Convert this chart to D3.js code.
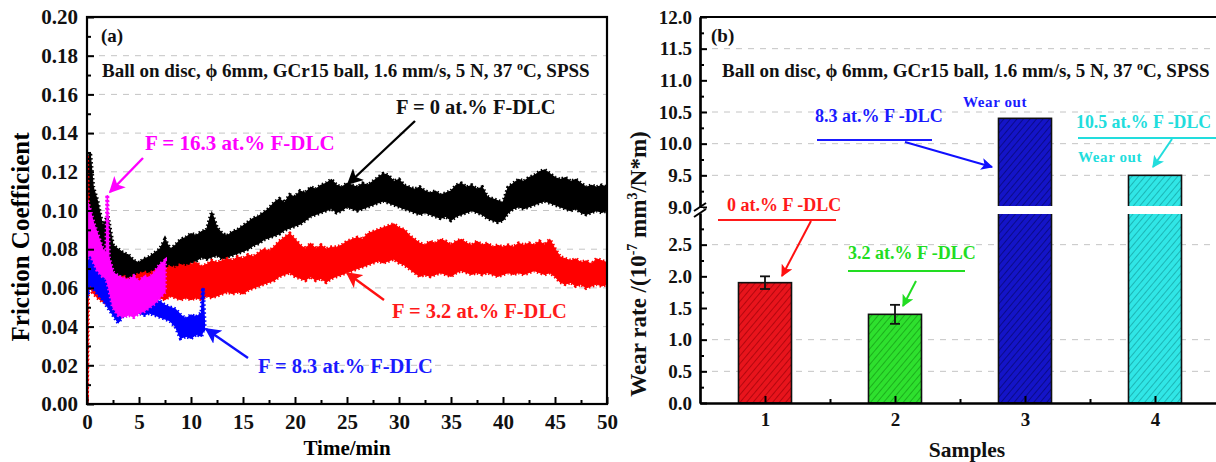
<!DOCTYPE html>
<html>
<head>
<meta charset="utf-8">
<script src="https://cdn.jsdelivr.net/npm/d3@7/dist/d3.min.js"></script>
<style>
  html, body { margin: 0; padding: 0; background: #fff; }
  svg text { font-family: "Liberation Serif", "Times New Roman", serif; font-weight: bold; }
</style>
</head>
<body>
<svg id="chart" width="1216" height="462"></svg>
<script>
// ---------- (a) friction coefficient vs time: [time/min, band low, band high] ----------
const frictionF0 = [
  [0,0.085,0.125],[0.3,0.095,0.13],[0.6,0.092,0.112],[1,0.085,0.105],[1.5,0.078,0.092],[2,0.072,0.097],
  [2.5,0.068,0.082],[3,0.067,0.080],[3.5,0.066,0.078],[4,0.065,0.077],[4.5,0.064,0.074],
  [5,0.063,0.073],[5.5,0.063,0.075],[6,0.064,0.076],[6.5,0.065,0.078],[7,0.066,0.080],
  [7.5,0.067,0.085],[8,0.068,0.080],[8.5,0.069,0.082],[9,0.070,0.085],[9.5,0.071,0.086],
  [10,0.073,0.088],[10.5,0.074,0.087],[11,0.076,0.089],[11.5,0.075,0.090],[12,0.076,0.099],
  [12.5,0.077,0.091],[13,0.075,0.088],[13.5,0.076,0.087],[14,0.077,0.089],[14.5,0.078,0.090],
  [15,0.079,0.092],[15.5,0.080,0.094],[16,0.082,0.096],[16.5,0.083,0.097],[17,0.085,0.099],
  [17.5,0.086,0.101],[18,0.087,0.104],[18.5,0.088,0.106],[19,0.090,0.104],[19.5,0.091,0.108],
  [20,0.092,0.107],[20.5,0.093,0.110],[21,0.095,0.109],[21.5,0.097,0.112],[22,0.098,0.111],
  [22.5,0.099,0.113],[23,0.100,0.114],[23.5,0.101,0.116],[24,0.099,0.113],[24.5,0.100,0.112],
  [25,0.102,0.114],[25.5,0.101,0.113],[26,0.100,0.112],[26.5,0.101,0.114],[27,0.102,0.113],
  [27.5,0.103,0.115],[28,0.104,0.117],[28.5,0.105,0.119],[29,0.104,0.118],[29.5,0.103,0.115],
  [30,0.102,0.116],[30.5,0.101,0.113],[31,0.100,0.112],[31.5,0.099,0.111],[32,0.098,0.112],
  [32.5,0.099,0.110],[33,0.098,0.109],[33.5,0.097,0.110],[34,0.096,0.108],[34.5,0.097,0.109],
  [35,0.095,0.110],[35.5,0.097,0.113],[36,0.098,0.114],[36.5,0.099,0.112],[37,0.100,0.113],
  [37.5,0.099,0.111],[38,0.098,0.112],[38.5,0.096,0.107],[39,0.095,0.106],[39.5,0.094,0.105],
  [40,0.095,0.104],[40.5,0.099,0.112],[41,0.101,0.114],[41.5,0.102,0.116],[42,0.101,0.115],
  [42.5,0.102,0.117],[43,0.103,0.118],[43.5,0.104,0.120],[44,0.105,0.121],[44.5,0.104,0.119],
  [45,0.103,0.117],[45.5,0.102,0.116],[46,0.101,0.117],[46.5,0.100,0.115],[47,0.101,0.116],
  [47.5,0.099,0.114],[48,0.098,0.112],[48.5,0.099,0.113],[49,0.100,0.112],[49.5,0.099,0.113],
  [50,0.100,0.112]
];
const frictionF32 = [
  [0,0.000,0.128],[0.1,0.065,0.105],[0.5,0.058,0.078],[1,0.055,0.068],[1.5,0.053,0.065],
  [2,0.052,0.064],[2.5,0.053,0.066],[3,0.054,0.065],[3.5,0.053,0.066],[4,0.054,0.064],
  [4.5,0.053,0.066],[5,0.054,0.067],[5.5,0.053,0.068],[6,0.055,0.067],[6.5,0.054,0.069],
  [7,0.055,0.068],[7.5,0.054,0.070],[8,0.056,0.071],[8.5,0.055,0.070],[9,0.054,0.072],
  [9.5,0.055,0.071],[10,0.054,0.072],[10.5,0.055,0.073],[11,0.054,0.071],[11.5,0.056,0.072],
  [12,0.055,0.074],[12.5,0.056,0.073],[13,0.057,0.074],[13.5,0.058,0.075],[14,0.057,0.074],
  [14.5,0.058,0.076],[15,0.057,0.075],[15.5,0.059,0.077],[16,0.060,0.076],[16.5,0.061,0.078],
  [17,0.062,0.080],[17.5,0.063,0.079],[18,0.064,0.081],[18.5,0.066,0.084],[19,0.067,0.086],
  [19.5,0.068,0.088],[20,0.066,0.085],[20.5,0.065,0.082],[21,0.064,0.080],[21.5,0.066,0.083],
  [22,0.064,0.080],[22.5,0.065,0.082],[23,0.063,0.080],[23.5,0.065,0.081],[24,0.066,0.081],
  [24.5,0.067,0.082],[25,0.068,0.084],[25.5,0.069,0.085],[26,0.070,0.086],[26.5,0.071,0.085],
  [27,0.072,0.088],[27.5,0.073,0.089],[28,0.074,0.090],[28.5,0.073,0.091],[29,0.074,0.092],
  [29.5,0.075,0.093],[30,0.073,0.091],[30.5,0.072,0.090],[31,0.070,0.087],[31.5,0.068,0.085],
  [32,0.066,0.083],[32.5,0.067,0.082],[33,0.066,0.084],[33.5,0.067,0.083],[34,0.068,0.085],
  [34.5,0.067,0.084],[35,0.066,0.082],[35.5,0.068,0.084],[36,0.069,0.085],[36.5,0.068,0.083],
  [37,0.067,0.082],[37.5,0.068,0.084],[38,0.067,0.082],[38.5,0.068,0.083],[39,0.067,0.081],
  [39.5,0.066,0.082],[40,0.067,0.081],[40.5,0.068,0.082],[41,0.067,0.081],[41.5,0.068,0.083],
  [42,0.067,0.082],[42.5,0.068,0.083],[43,0.069,0.082],[43.5,0.068,0.084],[44,0.067,0.082],
  [44.5,0.068,0.085],[45,0.066,0.080],[45.5,0.063,0.076],[46,0.062,0.075],[46.5,0.063,0.074],
  [47,0.061,0.075],[47.5,0.062,0.073],[48,0.060,0.074],[48.5,0.061,0.072],[49,0.062,0.075],
  [49.5,0.061,0.074],[50,0.062,0.073]
];
const frictionF83 = [
  [0,0.055,0.100],[0.3,0.062,0.085],[0.6,0.060,0.076],[1,0.057,0.071],[1.5,0.054,0.067],[2,0.050,0.063],
  [2.5,0.046,0.059],[3,0.042,0.057],[3.5,0.046,0.059],[4,0.047,0.057],[4.5,0.047,0.055],
  [5,0.047,0.056],[5.5,0.046,0.054],[6,0.047,0.055],[6.5,0.046,0.054],[7,0.045,0.053],
  [7.5,0.044,0.051],[8,0.043,0.050],[8.5,0.040,0.049],[9,0.034,0.046],[9.5,0.035,0.044],
  [10,0.034,0.046],[10.5,0.036,0.045],[11,0.035,0.047],[11.15,0.038,0.060],[11.3,0.038,0.042]
];
const frictionF163 = [
  [0,0.075,0.105],[0.3,0.078,0.100],[0.6,0.074,0.094],[1,0.069,0.088],[1.5,0.066,0.080],[1.85,0.065,0.078],
  [1.95,0.063,0.108],[2.1,0.060,0.076],[2.5,0.050,0.068],[3,0.046,0.066],[3.5,0.045,0.065],
  [4,0.046,0.064],[4.5,0.045,0.066],[5,0.047,0.063],[5.5,0.048,0.066],[6,0.050,0.065],
  [6.5,0.052,0.068],[7,0.055,0.072],[7.5,0.058,0.074]
];
const frictionTicks = [0, 0.02, 0.04, 0.06, 0.08, 0.10, 0.12, 0.14, 0.16, 0.18, 0.20];
const timeTicks = [0, 5, 10, 15, 20, 25, 30, 35, 40, 45, 50];

// ---------- (b) wear rate per sample ----------
const samples = [1, 2, 3, 4];
const wearRate = [1.9, 1.4, 10.4, 9.5];
const wearErr = [0.1, 0.15, null, null];
const wearTicksLow = [0, 0.5, 1.0, 1.5, 2.0, 2.5];
const wearTicksHigh = [9.0, 9.5, 10.0, 10.5, 11.0, 11.5, 12.0];
const wearGridLow = [0.5, 1.0, 2.5];
const wearGridHigh = [9.5, 10.0, 10.5, 11.5];

const svg = d3.select("#chart");
const defs = svg.append("defs");

// ================= panel (a) =================
const xL = d3.scaleLinear().domain([0, 50]).range([87, 607]);
const yL = d3.scaleLinear().domain([0, 0.2]).range([404, 17]);

defs.append("clipPath").attr("id", "clipA")
  .append("rect").attr("x", 87).attr("y", 17).attr("width", 520).attr("height", 387);

const gA = svg.append("g");

// dashed grid
gA.append("g").selectAll("line").data(frictionTicks.slice(1, -1)).join("line")
  .attr("x1", xL(0)).attr("x2", xL(50))
  .attr("y1", d => yL(d)).attr("y2", d => yL(d))
  .attr("stroke", "#c4c4c4").attr("stroke-width", 1).attr("stroke-dasharray", "6,6");

// friction bands: filled envelope plus a ragged dashed rim for the noisy trace
const band = d3.area()
  .x(d => xL(d[0])).y0(d => yL(d[1])).y1(d => yL(d[2]))
  .curve(d3.curveLinear);
const curves = [
  { data: frictionF0, color: "#000000" },
  { data: frictionF32, color: "#ff0000" },
  { data: frictionF83, color: "#0000ff" },
  { data: frictionF163, color: "#ff00ff" }
];
const gCurves = gA.append("g").attr("clip-path", "url(#clipA)");
curves.forEach(c => {
  gCurves.append("path").attr("d", band(c.data))
    .attr("fill", c.color).attr("stroke", c.color).attr("stroke-width", 1.2)
    .attr("stroke-linejoin", "miter");
  gCurves.append("path").attr("d", band(c.data))
    .attr("fill", "none").attr("stroke", c.color).attr("stroke-width", 4)
    .attr("stroke-dasharray", "1.5,2.5");
});

// axes with inward ticks
const axL = gA.append("g").attr("transform", `translate(${xL(0)},0)`)
  .call(d3.axisLeft(yL).tickValues(frictionTicks).tickFormat(d3.format(".2f"))
    .tickSizeInner(-7).tickSizeOuter(0).tickPadding(9));
gA.append("g").attr("transform", `translate(${xL(0)},0)`)
  .call(d3.axisLeft(yL).tickValues(d3.range(0.01, 0.2, 0.02)).tickFormat("")
    .tickSizeInner(-4).tickSizeOuter(0));
const axB = gA.append("g").attr("transform", `translate(0,${yL(0)})`)
  .call(d3.axisBottom(xL).tickValues(timeTicks).tickFormat(d3.format("d"))
    .tickSizeInner(-7).tickSizeOuter(0).tickPadding(10));
gA.append("g").attr("transform", `translate(0,${yL(0)})`)
  .call(d3.axisBottom(xL).tickValues(d3.range(2.5, 50, 5)).tickFormat("")
    .tickSizeInner(-4).tickSizeOuter(0));
gA.selectAll(".domain").remove();
gA.selectAll(".tick line").attr("stroke", "#000").attr("stroke-width", 2);
[axL, axB].forEach(a => a.selectAll("text").attr("font-size", 21).attr("fill", "#111"));

// frame
gA.append("rect").attr("x", xL(0)).attr("y", yL(0.2))
  .attr("width", xL(50) - xL(0)).attr("height", yL(0) - yL(0.2))
  .attr("fill", "none").attr("stroke", "#000").attr("stroke-width", 2.2);

// titles
gA.append("text").attr("transform", "translate(29,237) rotate(-90)")
  .attr("text-anchor", "middle").attr("font-size", 25).text("Friction Coefficient");
gA.append("text").attr("x", 347).attr("y", 455)
  .attr("text-anchor", "middle").attr("font-size", 21).text("Time/min");

// ---------- markers for annotation arrows ----------
function arrowMarker(id, color, size) {
  defs.append("marker").attr("id", id)
    .attr("viewBox", "0 0 10 10").attr("refX", 9).attr("refY", 5)
    .attr("markerWidth", size).attr("markerHeight", size).attr("orient", "auto")
    .attr("markerUnits", "userSpaceOnUse")
    .append("path").attr("d", "M0,0 L10,5 L0,10 L2.5,5 Z").attr("fill", color);
}
arrowMarker("arK", "#000", 16);
arrowMarker("arR", "#ff1010", 16);
arrowMarker("arB", "#1010ff", 16);
arrowMarker("arM", "#ff00ff", 16);
arrowMarker("arR2", "#ff1010", 12);
arrowMarker("arG", "#22dd22", 12);
arrowMarker("arB2", "#1010ff", 12);
arrowMarker("arC", "#22dddd", 12);

function arrow(g, x1, y1, x2, y2, color, marker, w) {
  g.append("line").attr("x1", x1).attr("y1", y1).attr("x2", x2).attr("y2", y2)
    .attr("stroke", color).attr("stroke-width", w || 2.4)
    .attr("marker-end", `url(#${marker})`);
}
function label(g, x, y, txt, color, size) {
  return g.append("text").attr("x", x).attr("y", y)
    .attr("fill", color).attr("font-size", size).text(txt);
}
function conditionText(g, x, y) {
  const t = g.append("text").attr("x", x).attr("y", y).attr("font-size", 19).attr("fill", "#111");
  t.append("tspan").text("Ball on disc, ϕ 6mm, GCr15 ball, 1.6 mm/s, 5 N, 37 ");
  t.append("tspan").attr("dy", -7).attr("font-size", 12).text("o");
  t.append("tspan").attr("dy", 7).text("C, SPSS");
}

label(gA, 101, 42, "(a)", "#111", 19);
conditionText(gA, 102, 77);

label(gA, 145, 150, "F = 16.3 at.% F-DLC", "#ff00ff", 21);
arrow(gA, 143, 158, 110, 192, "#ff00ff", "arM");
label(gA, 396, 114, "F = 0 at.% F-DLC", "#111", 20.5);
arrow(gA, 415, 121, 348, 184, "#000", "arK");
label(gA, 392, 318, "F = 3.2 at.% F-DLC", "#ff1a1a", 20.5);
arrow(gA, 384, 300, 347, 273, "#ff1010", "arR");
label(gA, 258, 373, "F = 8.3 at.% F-DLC", "#1a1aff", 20.5);
arrow(gA, 248, 358, 206, 329, "#1010ff", "arB");

// ================= panel (b) =================
const xR = d3.scaleLinear().domain([0.5, 4.5]).range([700, 1220]);
const yLo = d3.scaleLinear().domain([0, 3.0]).range([403, 213]);
const yHi = d3.scaleLinear().domain([9.0, 12.0]).range([207, 17]);
const barW = 53;
const gB = svg.append("g");

// grid
gB.append("g").selectAll("line").data(wearGridLow).join("line")
  .attr("x1", xR(0.5)).attr("x2", xR(4.5)).attr("y1", d => yLo(d)).attr("y2", d => yLo(d))
  .attr("stroke", "#c4c4c4").attr("stroke-dasharray", "6,6");
gB.append("g").selectAll("line").data(wearGridHigh).join("line")
  .attr("x1", xR(0.5)).attr("x2", xR(4.5)).attr("y1", d => yHi(d)).attr("y2", d => yHi(d))
  .attr("stroke", "#c4c4c4").attr("stroke-dasharray", "6,6");

// hatched fills
const barStyles = [
  { fill: "#e8141c", hatch: "#9c0008" },
  { fill: "#2ee02e", hatch: "#139a13" },
  { fill: "#1414c8", hatch: "#06066e" },
  { fill: "#30e6e6", hatch: "#14a0a0" }
];
barStyles.forEach((s, i) => {
  const p = defs.append("pattern").attr("id", "hatch" + i)
    .attr("patternUnits", "userSpaceOnUse").attr("width", 5).attr("height", 5)
    .attr("patternTransform", "rotate(40)");
  p.append("rect").attr("width", 5).attr("height", 5).attr("fill", s.fill);
  p.append("line").attr("x1", 0).attr("y1", 0).attr("x2", 0).attr("y2", 5)
    .attr("stroke", s.hatch).attr("stroke-width", 1.4);
});

// bars (split across the axis break)
const barData = samples.map((s, i) => ({ s, v: wearRate[i], e: wearErr[i], i }));
const gBars = gB.append("g");
barData.forEach(d => {
  const x0 = xR(d.s) - barW / 2;
  const lowTop = yLo(Math.min(d.v, 3.0));
  gBars.append("rect").attr("x", x0).attr("y", lowTop)
    .attr("width", barW).attr("height", yLo(0) - lowTop)
    .attr("fill", `url(#hatch${d.i})`).attr("stroke", "#111").attr("stroke-width", 1.6);
  if (d.v > 9.0) {
    gBars.append("rect").attr("x", x0).attr("y", yHi(d.v))
      .attr("width", barW).attr("height", yHi(9.0) - yHi(d.v))
      .attr("fill", `url(#hatch${d.i})`).attr("stroke", "#111").attr("stroke-width", 1.6);
  }
  if (d.e) {
    const cx = xR(d.s);
    const g = gBars.append("g").attr("stroke", "#111").attr("stroke-width", 1.8);
    g.append("line").attr("x1", cx).attr("x2", cx).attr("y1", yLo(d.v - d.e)).attr("y2", yLo(d.v + d.e));
    [d.v - d.e, d.v + d.e].forEach(v =>
      g.append("line").attr("x1", cx - 5).attr("x2", cx + 5).attr("y1", yLo(v)).attr("y2", yLo(v)));
  }
});
// white gap across the break (hides the segment ends)
gBars.append("rect").attr("x", xR(0.5) + 2).attr("y", yHi(9.0) - 1)
  .attr("width", xR(4.5) - xR(0.5)).attr("height", yLo(3.0) - yHi(9.0) + 2).attr("fill", "#fff");

// axes
function styleAxis(g) {
  g.select(".domain").attr("stroke", "#000").attr("stroke-width", 2.2);
  g.selectAll(".tick line").attr("stroke", "#000").attr("stroke-width", 2);
  g.selectAll("text").attr("font-size", 19).attr("fill", "#111");
}
const axLo = gB.append("g").attr("transform", `translate(${xR(0.5)},0)`)
  .call(d3.axisLeft(yLo).tickValues(wearTicksLow).tickFormat(d3.format(".1f"))
    .tickSizeInner(-7).tickSizeOuter(0).tickPadding(8));
styleAxis(axLo);
gB.append("g").attr("transform", `translate(${xR(0.5)},0)`)
  .call(d3.axisLeft(yLo).tickValues(d3.range(0.25, 3.0, 0.5)).tickFormat("")
    .tickSizeInner(-4).tickSizeOuter(0)).call(styleAxis);
const axHi = gB.append("g").attr("transform", `translate(${xR(0.5)},0)`)
  .call(d3.axisLeft(yHi).tickValues(wearTicksHigh).tickFormat(d3.format(".1f"))
    .tickSizeInner(-7).tickSizeOuter(0).tickPadding(8));
styleAxis(axHi);
gB.append("g").attr("transform", `translate(${xR(0.5)},0)`)
  .call(d3.axisLeft(yHi).tickValues(d3.range(9.25, 12.0, 0.5)).tickFormat("")
    .tickSizeInner(-4).tickSizeOuter(0)).call(styleAxis);
const axX = gB.append("g").attr("transform", `translate(0,${yLo(0)})`)
  .call(d3.axisBottom(xR).tickValues(samples).tickFormat(d3.format("d"))
    .tickSizeInner(-7).tickSizeOuter(0).tickPadding(10));
styleAxis(axX);
gB.append("g").attr("transform", `translate(0,${yLo(0)})`)
  .call(d3.axisBottom(xR).tickValues([1.5, 2.5, 3.5]).tickFormat("")
    .tickSizeInner(-4).tickSizeOuter(0)).call(styleAxis);
// top border
gB.append("line").attr("x1", xR(0.5)).attr("x2", xR(4.5)).attr("y1", yHi(12)).attr("y2", yHi(12))
  .attr("stroke", "#000").attr("stroke-width", 2.2);

// break marks on the y axis
const bx = xR(0.5);
gB.append("rect").attr("x", bx - 3).attr("y", yHi(9.0) + 1).attr("width", 6)
  .attr("height", yLo(3.0) - yHi(9.0) - 2).attr("fill", "#fff");
[yHi(9.0), yLo(3.0)].forEach(y =>
  gB.append("line").attr("x1", bx - 6).attr("y1", y + 4).attr("x2", bx + 6).attr("y2", y - 4)
    .attr("stroke", "#000").attr("stroke-width", 2));

// titles
const yt = gB.append("text").attr("transform", "translate(646,264) rotate(-90)")
  .attr("text-anchor", "middle").attr("font-size", 23).attr("fill", "#111");
yt.append("tspan").text("Wear rate /(10");
yt.append("tspan").attr("dy", -9).attr("font-size", 14).text("-7");
yt.append("tspan").attr("dy", 9).text(" mm");
yt.append("tspan").attr("dy", -9).attr("font-size", 14).text("3");
yt.append("tspan").attr("dy", 9).text("/N*m)");
gB.append("text").attr("x", 967).attr("y", 457).attr("text-anchor", "middle")
  .attr("font-size", 21.5).attr("fill", "#111").text("Samples");

label(gB, 711, 42, "(b)", "#111", 19);
conditionText(gB, 722, 77);

// bar annotations
label(gB, 963, 107, "Wear out", "#1a1aff", 15).attr("letter-spacing", 0.6);
label(gB, 815, 122, "8.3 at.% F -DLC", "#1a1aff", 18);
gB.append("line").attr("x1", 817).attr("x2", 932).attr("y1", 140).attr("y2", 140).attr("stroke", "#1a1aff").attr("stroke-width", 2);
arrow(gB, 905, 142, 992, 167, "#1010ff", "arB2", 2);

label(gB, 1076, 128, "10.5 at.% F -DLC", "#22dddd", 17.8);
gB.append("line").attr("x1", 1078).attr("x2", 1216).attr("y1", 138).attr("y2", 138).attr("stroke", "#22dddd").attr("stroke-width", 2);
label(gB, 1078, 162, "Wear out", "#22dddd", 15).attr("letter-spacing", 0.6);
arrow(gB, 1172, 139, 1153, 167, "#22dddd", "arC", 2);

label(gB, 727, 211, "0 at.% F -DLC", "#ff1a1a", 18);
gB.append("line").attr("x1", 718).attr("x2", 836).attr("y1", 220).attr("y2", 220).attr("stroke", "#ff1a1a").attr("stroke-width", 2);
arrow(gB, 811, 221, 782, 276, "#ff1010", "arR2", 2);

label(gB, 848, 259, "3.2 at.% F -DLC", "#22dd22", 18);
gB.append("line").attr("x1", 848).attr("x2", 965).attr("y1", 271).attr("y2", 271).attr("stroke", "#22dd22").attr("stroke-width", 2);
arrow(gB, 916, 281, 903, 306, "#22dd22", "arG", 2);
</script>
</body>
</html>
